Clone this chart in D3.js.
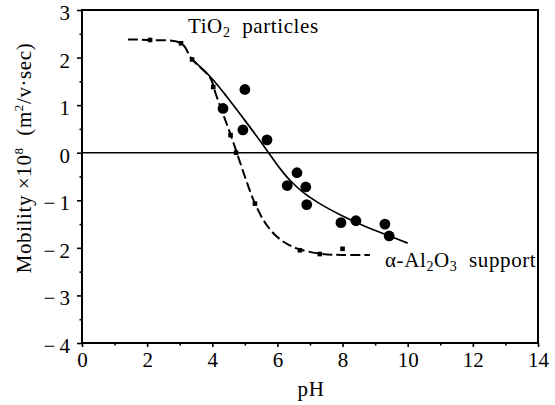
<!DOCTYPE html>
<html><head><meta charset="utf-8">
<script src="https://cdn.jsdelivr.net/npm/d3@7"></script>
<style>
html,body{margin:0;padding:0;background:#fff;}
svg{display:block;}
svg text{font-family:"Liberation Serif","DejaVu Serif",serif;}
</style></head>
<body>
<svg id="chart" width="555" height="405"></svg>
<script>
// ---- data ----
const xTickValues = [0, 2, 4, 6, 8, 10, 12, 14];
const yTickValues = [-4, -3, -2, -1, 0, 1, 2, 3];
// TiO2 particles: measured points (pH, mobility x10^8)
const tio2PH  = [4.33, 5.0, 4.94, 5.68, 6.6, 6.3, 6.87, 6.9, 7.95, 8.41, 9.3, 9.43];
const tio2Mob = [0.93, 1.33, 0.48, 0.27, -0.42, -0.69, -0.72, -1.09, -1.47, -1.43, -1.5, -1.75];
// TiO2 fitted curve
const tio2FitPH  = [3.4, 4.0, 4.5, 5.0, 5.5, 5.8, 6.1, 6.4, 6.8, 7.3, 8.0, 8.7, 9.4, 10.0];
const tio2FitMob = [1.95, 1.55, 1.13, 0.68, 0.22, -0.07, -0.35, -0.59, -0.84, -1.07, -1.33, -1.55, -1.74, -1.9];
// alpha-Al2O3 support: measured points
const alPH  = [2.09, 3.04, 3.38, 4.03, 4.56, 4.73, 5.31, 6.69, 7.3, 8.0];
const alMob = [2.37, 2.3, 1.96, 1.38, 0.37, 0.0, -1.07, -2.05, -2.13, -2.02];
// alpha-Al2O3 dashed curve
const alFitPH  = [1.41, 2.09, 3.04, 3.38, 3.93, 4.1, 4.3, 4.5, 4.73, 5.0, 5.3, 5.67, 6.08, 6.59, 7.3, 8.0, 8.84];
const alFitMob = [2.38, 2.37, 2.3, 1.96, 1.58, 1.25, 0.87, 0.5, 0.05, -0.5, -1.05, -1.52, -1.82, -2.01, -2.12, -2.15, -2.15];

// ---- chart ----
const svg = d3.select("#chart");
const L = 82, R = 538, T = 10, B = 343;
const x = d3.scaleLinear().domain([0, 14]).range([L, R]);
const y = d3.scaleLinear().domain([-4, 3]).range([B, T]);
const fs = 21;

// x axis
const xAxis = svg.append("g").attr("transform", `translate(0,${B})`)
  .call(d3.axisBottom(x).tickValues(xTickValues).tickSize(4).tickPadding(5).tickFormat(d3.format("d")));
const xMinor = svg.append("g").attr("transform", `translate(0,${B})`)
  .call(d3.axisBottom(x).tickValues(d3.range(1, 14, 2)).tickSize(2.5).tickFormat(""));
// y axis
const yAxis = svg.append("g").attr("transform", `translate(${L},0)`)
  .call(d3.axisLeft(y).tickValues(yTickValues).tickSize(5).tickPadding(7)
    .tickFormat(d => d < 0 ? "\u2212\u2009" + Math.abs(d) : String(d)));
const yMinor = svg.append("g").attr("transform", `translate(${L},0)`)
  .call(d3.axisLeft(y).tickValues(d3.range(-3.5, 3, 1)).tickSize(2.5).tickFormat(""));
[xAxis, xMinor, yAxis, yMinor].forEach(g => {
  g.attr("font-family", null).attr("font-size", null);
  g.select(".domain").remove();
  g.selectAll("line").attr("stroke", "#000").attr("stroke-width", 1.6);
  g.selectAll("text").attr("font-size", fs).attr("fill", "#000");
});
xAxis.selectAll("text").attr("dy", "0.72em");
yAxis.selectAll("text").attr("dy", "0.45em");

// frame
svg.append("rect").attr("x", L).attr("y", T).attr("width", R - L).attr("height", B - T)
  .attr("fill", "none").attr("stroke", "#000").attr("stroke-width", 2);
// zero line
svg.append("line").attr("x1", x(0)).attr("x2", x(14)).attr("y1", y(0)).attr("y2", y(0))
  .attr("stroke", "#000").attr("stroke-width", 1.5);

// curves
const line = d3.line().x(d => x(d[0])).y(d => y(d[1])).curve(d3.curveCatmullRom.alpha(0.5));
svg.append("path").datum(d3.zip(tio2FitPH, tio2FitMob)).attr("d", line)
  .attr("fill", "none").attr("stroke", "#000").attr("stroke-width", 1.7);
svg.append("path").datum(d3.zip(alFitPH, alFitMob)).attr("d", line)
  .attr("fill", "none").attr("stroke", "#000").attr("stroke-width", 2)
  .attr("stroke-dasharray", "10,4");

// points
svg.append("g").selectAll("circle").data(d3.zip(tio2PH, tio2Mob)).join("circle")
  .attr("cx", d => x(d[0])).attr("cy", d => y(d[1])).attr("r", 5.4).attr("fill", "#000");
svg.append("g").selectAll("rect").data(d3.zip(alPH, alMob)).join("rect")
  .attr("x", d => x(d[0]) - 2.3).attr("y", d => y(d[1]) - 2.3).attr("width", 4.6).attr("height", 4.6)
  .attr("fill", "#000");

// labels
const t1 = svg.append("text").attr("x", 188).attr("y", 33).attr("font-size", fs)
  .attr("letter-spacing", 0.6).attr("fill", "#000");
t1.append("tspan").text("TiO");
t1.append("tspan").text("2").attr("font-size", 14).attr("dy", 4);
t1.append("tspan").text("\u00a0\u00a0particles").attr("dy", -4);

const t2 = svg.append("text").attr("x", 385).attr("y", 267).attr("font-size", fs)
  .attr("letter-spacing", 0.6).attr("fill", "#000");
t2.append("tspan").text("\u03b1-Al");
t2.append("tspan").text("2").attr("font-size", 14).attr("dy", 4);
t2.append("tspan").text("O").attr("dy", -4);
t2.append("tspan").text("3").attr("font-size", 14).attr("dy", 4);
t2.append("tspan").text("\u00a0\u00a0support").attr("dy", -4);

svg.append("text").attr("x", 311).attr("y", 396).attr("text-anchor", "middle")
  .attr("font-size", fs).attr("letter-spacing", 0.6).attr("fill", "#000").text("pH");

const yl = svg.append("text").attr("transform", "translate(31,158) rotate(-90)")
  .attr("text-anchor", "middle").attr("font-size", fs).attr("letter-spacing", 0.6).attr("fill", "#000");
yl.append("tspan").text("Mobility \u00d710");
yl.append("tspan").text("8").attr("font-size", 13).attr("dy", -8);
yl.append("tspan").text("\u00a0\u00a0(m").attr("dy", 8);
yl.append("tspan").text("2").attr("font-size", 13).attr("dy", -8);
yl.append("tspan").text("/v\u00b7sec)").attr("dy", 8);
</script>
</body></html>
